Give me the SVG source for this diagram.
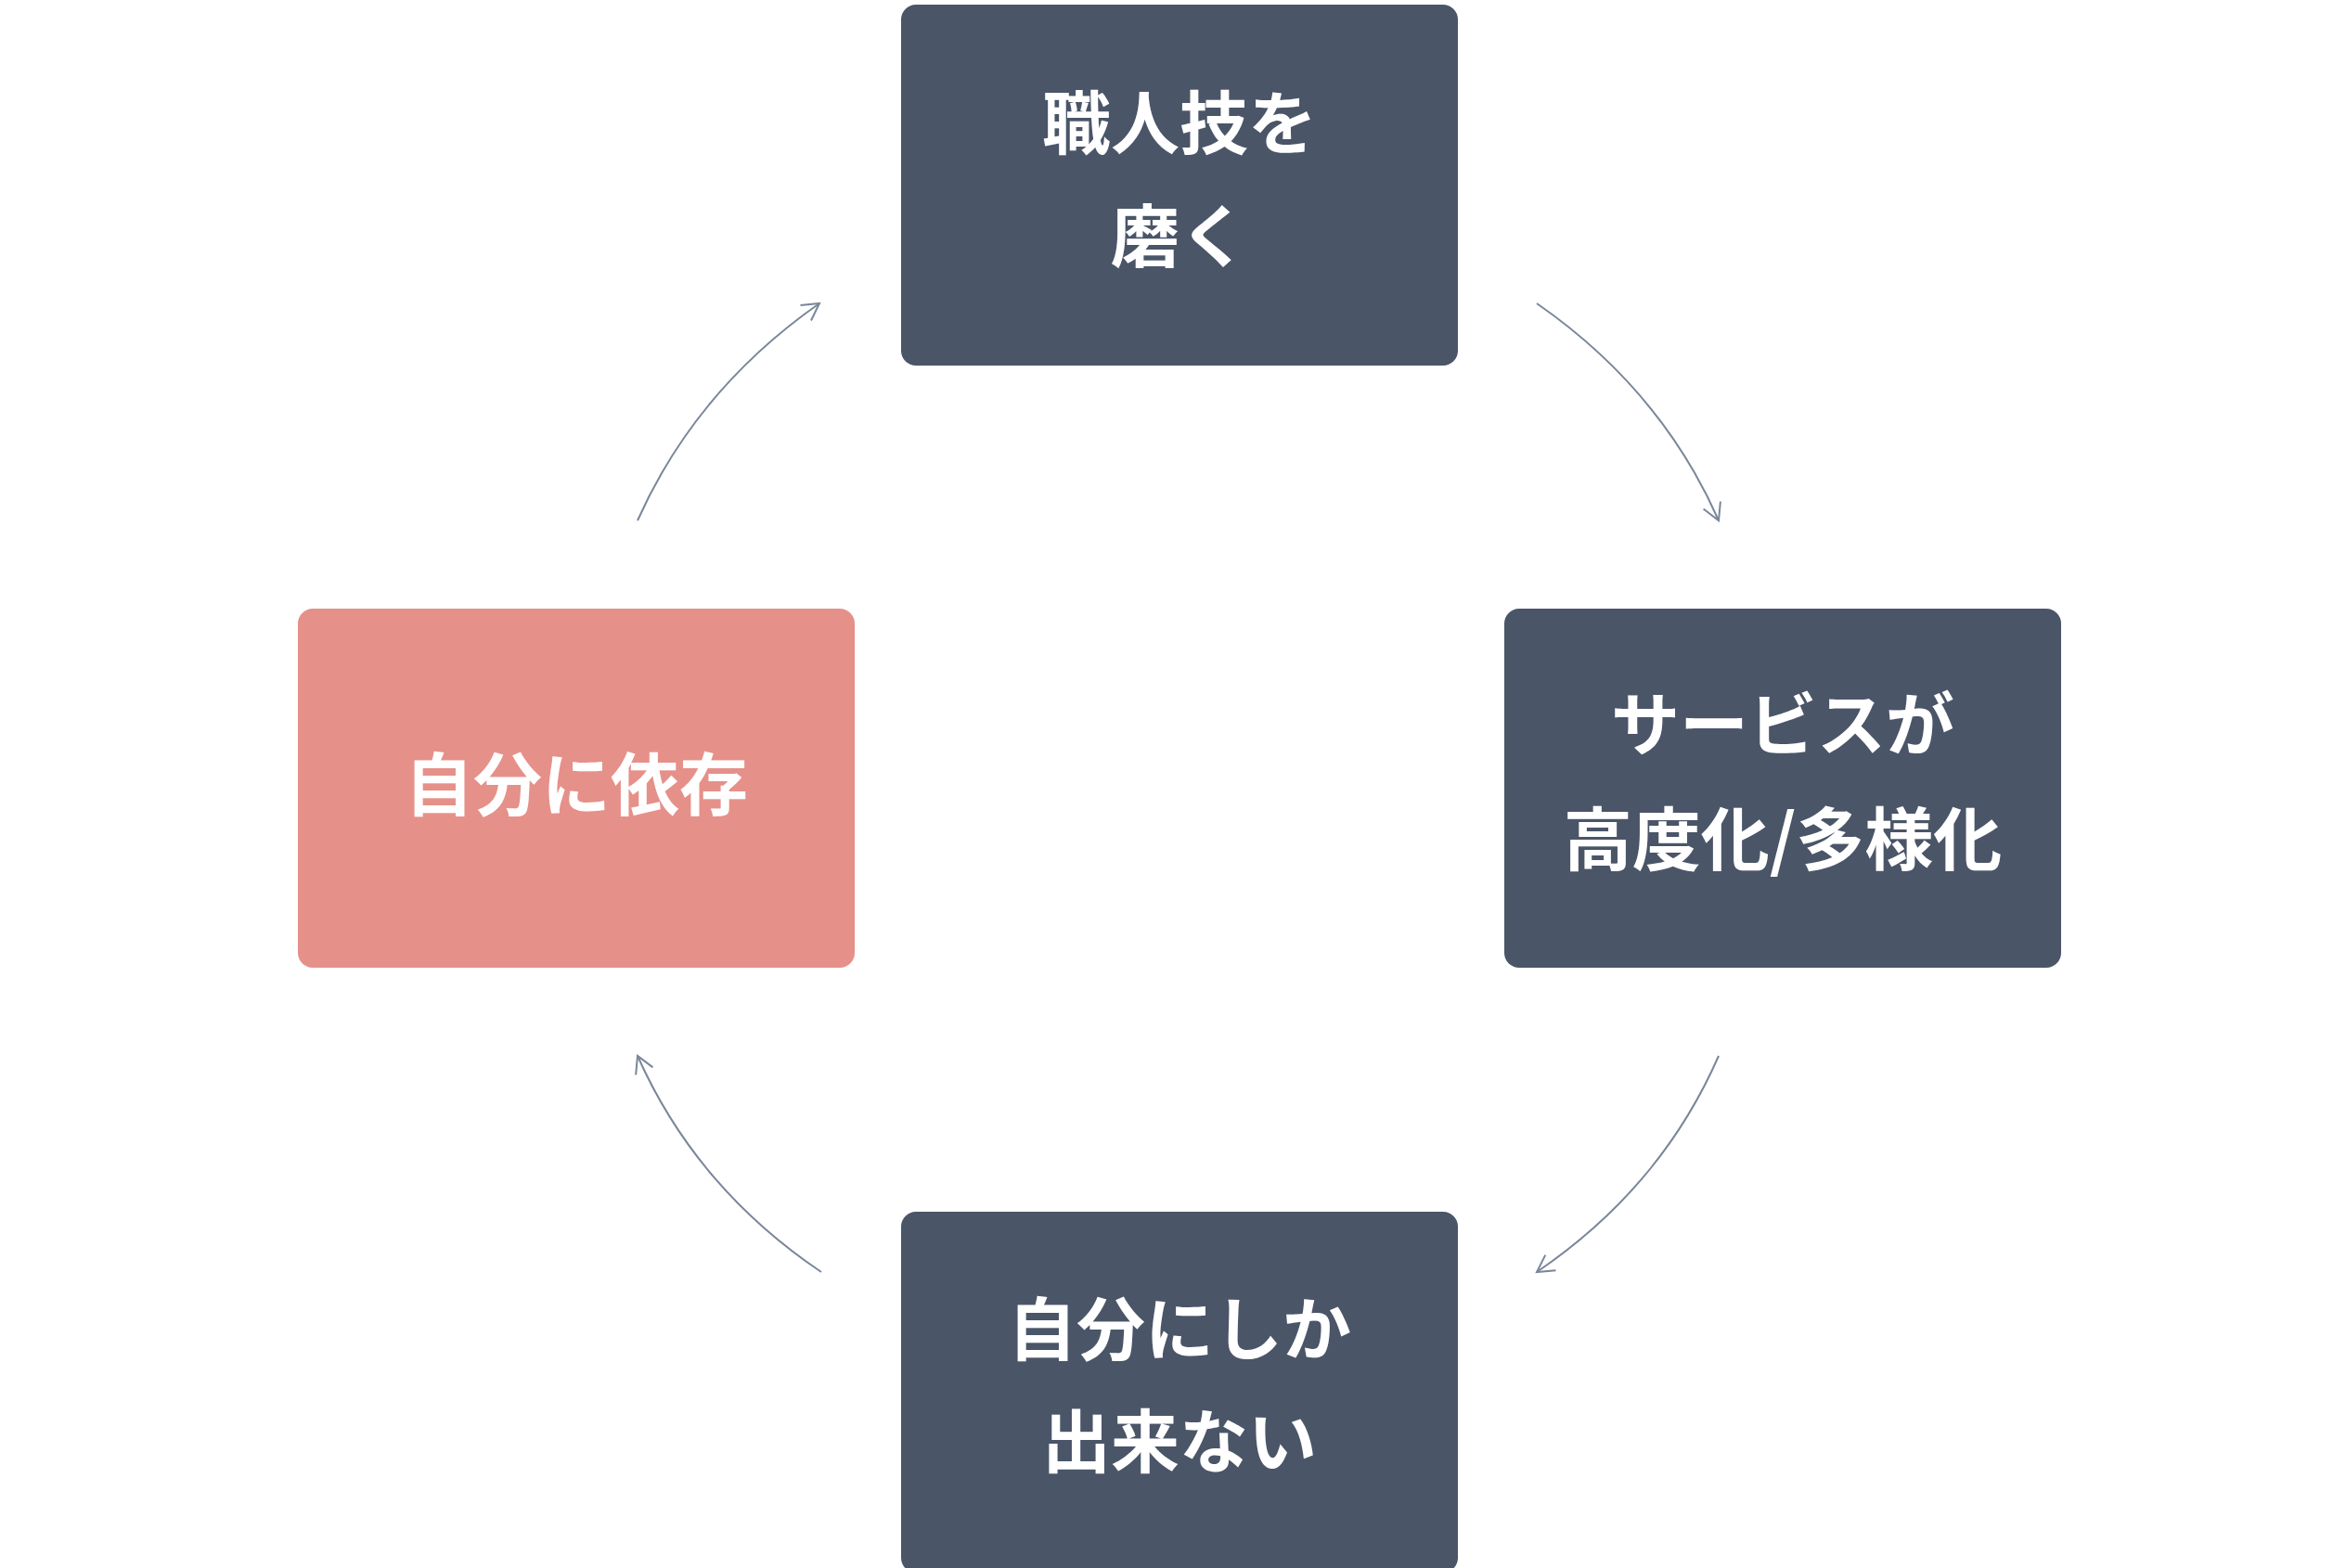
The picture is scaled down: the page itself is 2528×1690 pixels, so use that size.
<svg xmlns="http://www.w3.org/2000/svg" width="2528" height="1690" viewBox="0 0 2528 1690">
<style>
.n{fill:#4a5568}
.p{fill:#e6908a}
.t{fill:#fff;font-family:"Noto Sans CJK JP","Noto Sans",sans-serif;font-weight:bold;font-size:74px;text-anchor:middle}
.c{fill:none;stroke:#7a869a;stroke-width:2}
</style>
<defs>
<marker id="a" markerWidth="24" markerHeight="24" refX="20" refY="12" orient="auto" markerUnits="userSpaceOnUse">
<path d="M2,2 L20,12 L2,22" fill="none" stroke="#7a869a" stroke-width="2"/>
</marker>
</defs>
<rect width="2528" height="1690" fill="#fff"/>
<g id="n1"><rect class="n" x="971" y="5" width="600" height="389" rx="16"/>
<text class="t" x="1271" y="160">職人技を</text><text class="t" x="1271" y="282">磨く</text></g>
<g id="n2"><rect class="n" x="1621" y="656" width="600" height="387" rx="16"/>
<text class="t" x="1921" y="808">サービスが</text><text class="t" x="1921" y="932">高度化/多様化</text></g>
<g id="n3"><rect class="n" x="971" y="1306" width="600" height="389" rx="16"/>
<text class="t" x="1271" y="1460">自分にしか</text><text class="t" x="1271" y="1581">出来ない</text></g>
<g id="n4"><rect class="p" x="321" y="656" width="600" height="387" rx="16"/>
<text class="t" x="621" y="873">自分に依存</text></g>
<g id="connectors">
<path class="c" d="M1656,327 Q1790,420 1852,561" marker-end="url(#a)"/>
<path class="c" d="M1852,1138 Q1790,1280 1656,1371" marker-end="url(#a)"/>
<path class="c" d="M885,1371 Q750,1280 687,1138" marker-end="url(#a)"/>
<path class="c" d="M687,561 Q750,420 883,327" marker-end="url(#a)"/>
</g>
</svg>
